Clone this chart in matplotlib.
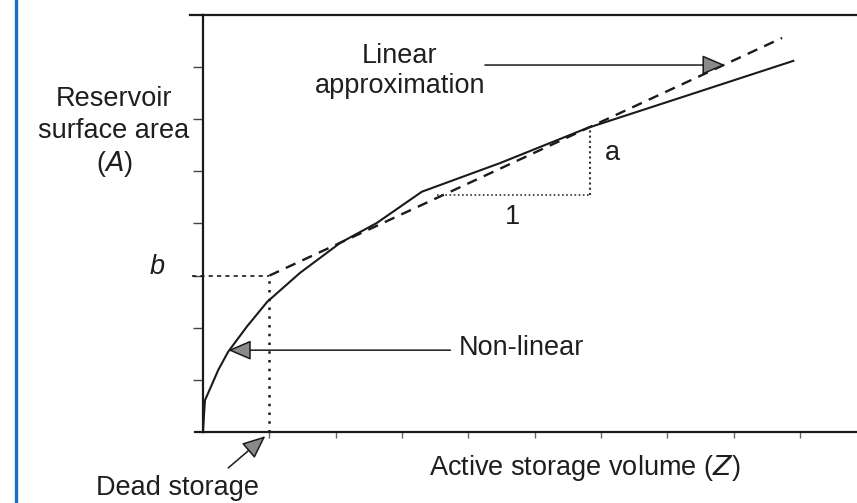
import matplotlib.pyplot as plt

plt.rcParams['font.family'] = ['Liberation Sans', 'DejaVu Sans']

# non-linear area-storage curve (Z in tick units, A in tick units)
nonlinear_z = [0.0, 0.015, 0.03, 0.11, 0.23, 0.38, 0.66, 0.97, 1.46, 2.07, 2.62, 3.30, 4.48, 5.79, 7.19, 8.90]
nonlinear_a = [0.0, 0.33, 0.61, 0.84, 1.19, 1.54, 2.02, 2.50, 3.05, 3.63, 4.01, 4.61, 5.16, 5.83, 6.41, 7.12]

# linear approximation A = aZ + b, starting at dead storage
linear_z = [1.0, 8.73]
linear_a = [3.0, 7.56]
dead_storage = 1.0
b_level = 3.0

# slope triangle
tri_z = [3.53, 5.84]
tri_a = [4.55, 5.85]

x_ticks = [1, 2, 3, 4, 5, 6, 7, 8, 9]
y_ticks = [1, 2, 3, 4, 5, 6, 7]

txt = '#1e1e1e'
fs = 19.5

fig = plt.figure(figsize=(8.57, 5.03), dpi=100)
ax = fig.add_axes([203 / 857, 71 / 503, 1 - 203 / 857, 417 / 503])
ax.set_xlim(0, 9.86)
ax.set_ylim(0, 8)

for side in ['left', 'bottom', 'top']:
    ax.spines[side].set_linewidth(1.6)
    ax.spines[side].set_color('#1a1a1a')
ax.spines['right'].set_visible(False)

ax.set_xticks(x_ticks)
ax.set_yticks(y_ticks)
ax.set_xticklabels([])
ax.set_yticklabels([])
ax.tick_params(axis='y', direction='out', length=7, width=1.0, color='#444444')
ax.tick_params(axis='x', direction='out', length=4, width=1.0, color='#666666')

# little overhangs of the frame on the left
ax.plot([-0.2, 0], [8, 8], color='#1a1a1a', lw=1.6, clip_on=False)
ax.plot([-0.12, 0], [0, 0], color='#1a1a1a', lw=1.6, clip_on=False)

ax.plot(nonlinear_z, nonlinear_a, color='#1a1a1a', lw=1.5, clip_on=False)
ax.plot(linear_z, linear_a, color='#1a1a1a', lw=1.7, linestyle=(0, (4.5, 3.2)), clip_on=False)

# dead storage and b guides
ax.plot([dead_storage, dead_storage], [0, b_level], color='#1a1a1a', lw=1.8, linestyle=(0, (1, 2.5)))
ax.plot([-0.17, dead_storage], [b_level, b_level], color='#1a1a1a', lw=1.2, linestyle=(0, (2.5, 2.5)), clip_on=False)

# slope triangle
ax.plot([tri_z[0], tri_z[1]], [tri_a[0], tri_a[0]], color='#333333', lw=1.2, linestyle=(0, (1, 1.5)))
ax.plot([tri_z[1], tri_z[1]], [tri_a[0], tri_a[1]], color='#333333', lw=1.5, linestyle=(0, (1, 1.5)))

arrow = dict(arrowstyle='-|>,head_length=0.65,head_width=0.28', mutation_scale=22,
             fc='#8a8a8a', ec='#1a1a1a', lw=1.1, shrinkA=0, shrinkB=0)

ax.annotate('', xy=(7.87, 7.04), xytext=(4.25, 7.04), arrowprops=arrow, annotation_clip=False)
ax.annotate('', xy=(0.38, 1.57), xytext=(3.73, 1.57), arrowprops=arrow, annotation_clip=False)
ax.annotate('', xy=(0.94, -0.08), xytext=(0.38, -0.69), arrowprops=arrow, annotation_clip=False)

ax.text(2.97, 6.93, 'Linear\napproximation', ha='center', va='center', fontsize=fs,
        color=txt, linespacing=1.2)
ax.text(3.85, 1.61, 'Non-linear', ha='left', va='center', fontsize=fs, color=txt)
ax.text(-1.34, 5.74, 'Reservoir\nsurface area\n($\\it{A}$)', ha='center', va='center', fontsize=fs,
        color=txt, linespacing=1.27, clip_on=False)
ax.text(5.75, -0.69, 'Active storage volume ($\\it{Z}$)', ha='center', va='center', fontsize=fs,
        color=txt, clip_on=False)
ax.text(-0.39, -1.07, 'Dead storage', ha='center', va='center', fontsize=fs, color=txt, clip_on=False)
ax.text(-0.69, 3.17, 'b', ha='center', va='center', fontsize=fs, style='italic', color=txt, clip_on=False)
ax.text(6.17, 5.36, 'a', ha='center', va='center', fontsize=fs, color=txt)
ax.text(4.66, 4.13, '1', ha='center', va='center', fontsize=fs, color=txt)

# blue border line on the left of the page
fig.add_artist(plt.Line2D([16 / 857, 16 / 857], [0, 1], color='#1a6fc4', lw=2.4))

fig.savefig('out.png', dpi=100)
